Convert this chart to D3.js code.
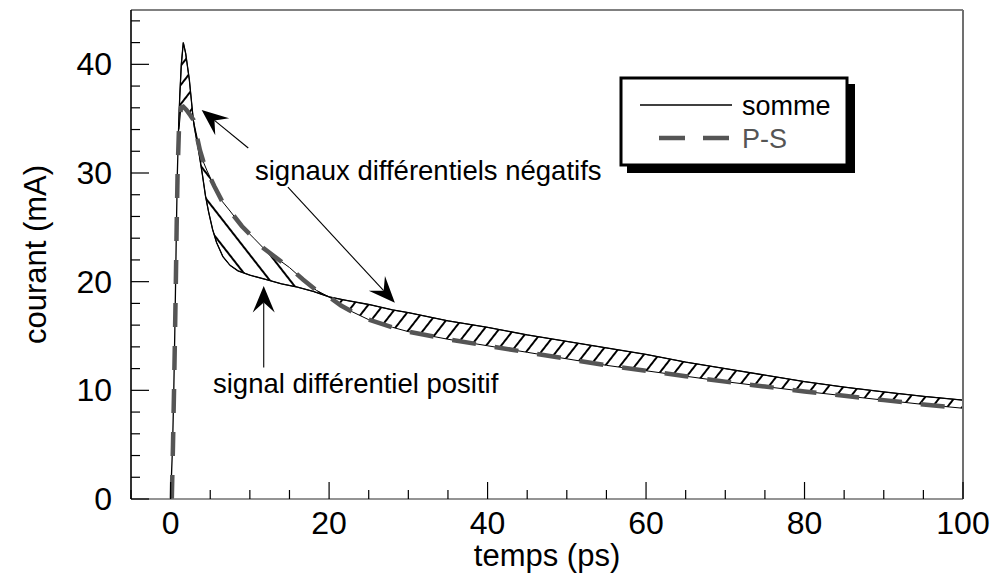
<!DOCTYPE html>
<html><head><meta charset="utf-8">
<script src="https://cdn.jsdelivr.net/npm/d3@7"></script>
<style>body{margin:0;background:#fff;} svg{display:block;font-family:"Liberation Sans",Arial,Helvetica,sans-serif;}</style>
</head><body><svg id="c" width="993" height="576"></svg>
<script>
// ---- data (temps en ps, courant en mA) ----
const sommeT = [0,0.25,0.4,0.52,0.63,0.73,0.85,1.0,1.15,1.35,1.6,1.9,2.36,2.86,3.0,3.5,4.0,4.4,4.8,5.3,5.8,6.6,7.5,8.5,10,12,14,16,18,20,22,25,28,30,35,40,45,50,55,60,65,70,75,80,85,90,95,100];
const sommeI = [0,5,10,15,20,25,30,34,37,40,42,41,38.6,34.9,34.2,32.2,29.9,27.9,26.4,24.8,23.6,22.3,21.5,21.0,20.6,20.2,19.8,19.5,19.1,18.6,18.3,17.9,17.4,17.15,16.4,15.8,15.1,14.5,13.9,13.3,12.6,12.0,11.4,10.8,10.3,9.85,9.45,9.1];
const psT = [0.15,0.3,0.43,0.55,0.66,0.76,0.88,1.05,1.3,1.6,2.0,2.5,2.86,3.3,3.7,4.2,4.6,5.5,6.5,7.5,9,10.5,11.7,13.5,15,16.7,18.4,20,21.5,23,25,28,30,35,40,45,50,55,60,65,70,75,80,85,90,95,100];
const psI = [0,5,10,15,20,25,30,34,36,36.1,35.8,35.3,34.9,33.4,32.1,30.9,30.2,28.8,27.4,26.5,25.1,24.0,23.1,22.1,21.3,20.2,19.2,18.6,17.8,17.2,16.5,15.8,15.4,14.7,14.1,13.5,12.9,12.3,11.8,11.3,10.8,10.35,9.9,9.5,9.1,8.7,8.35];
const xMajorTicks = [0,20,40,60,80,100];
const xMinorTicks = [-5,5,10,15,25,30,35,45,50,55,65,70,75,85,90,95];
const yMajorTicks = [0,10,20,30,40];
const yMinorTicks = [2,4,6,8,12,14,16,18,22,24,26,28,32,34,36,38,42,44];
const seriesNames = ["somme","P-S"];
const hatchStartT = 1.0;      // début de la zone hachurée
const midRegion = [3.0, 20];  // zone "signal différentiel positif"
// annotations (en unités de données)
const labelNeg = {t:10.65, v:29.4, text:"signaux différentiels négatifs"};
const labelPos = {t:5.35, v:9.8, text:"signal différentiel positif"};
const arrows = [
  {from:[9.8,32.3], to:[3.92,35.8]},
  {from:[14.8,28.7], to:[28.3,18.05]},
  {from:[11.75,12.1], to:[11.75,19.6]}
];

// ---- chart ----
const svg = d3.select("#c");
const W = 993, H = 576;
const x = d3.scaleLinear().domain([-5,100]).range([131,963]);
const y = d3.scaleLinear().domain([0,45]).range([499,10]);
const defs = svg.append("defs");
defs.append("clipPath").attr("id","plot").append("rect")
  .attr("x",x(-5)).attr("y",y(45)).attr("width",x(100)-x(-5)).attr("height",y(0)-y(45));
const cm = defs.append("clipPath").attr("id","mid");
cm.append("rect").attr("x",x(midRegion[0])).attr("y",0).attr("width",x(midRegion[1])-x(midRegion[0])).attr("height",H);
const co = defs.append("clipPath").attr("id","out");
co.append("rect").attr("x",0).attr("y",0).attr("width",x(midRegion[0])).attr("height",H);
co.append("rect").attr("x",x(midRegion[1])).attr("y",0).attr("width",W-x(midRegion[1])).attr("height",H);

function hatch(id, angle, sp){
  const p = defs.append("pattern").attr("id",id).attr("patternUnits","userSpaceOnUse")
    .attr("width",sp).attr("height",sp).attr("patternTransform",`rotate(${angle})`);
  p.append("line").attr("x1",sp/2).attr("x2",sp/2).attr("y1",-1).attr("y2",sp+1)
    .attr("stroke","#000").attr("stroke-width",2);
}
hatch("hRight",38,11.8);
hatch("hMid",-38,16);

const somme = sommeT.map((t,i)=>[t,sommeI[i]]);
const ps = psT.map((t,i)=>[t,psI[i]]);
const line = d3.line().x(d=>x(d[0])).y(d=>y(d[1]));
const poly = somme.filter(d=>d[0]>=hatchStartT).concat(ps.filter(d=>d[0]>=hatchStartT).reverse());
const polyPath = line(poly)+"Z";

const g = svg.append("g").attr("clip-path","url(#plot)");
g.append("g").attr("clip-path","url(#out)").append("path").attr("d",polyPath)
  .attr("fill","url(#hRight)").attr("stroke","#000").attr("stroke-width",1);
g.append("g").attr("clip-path","url(#mid)").append("path").attr("d",polyPath)
  .attr("fill","url(#hMid)").attr("stroke","#000").attr("stroke-width",1);
g.append("path").attr("d",line(somme)).attr("fill","none").attr("stroke","#000").attr("stroke-width",1.3);
g.append("path").attr("d",line(ps)).attr("fill","none").attr("stroke","#555").attr("stroke-width",4.5)
  .attr("stroke-dasharray","24,19");

// frame
svg.append("line").attr("x1",x(-5)).attr("x2",x(100)).attr("y1",y(45)).attr("y2",y(45)).attr("stroke","#808080").attr("stroke-width",2);
svg.append("line").attr("x1",x(100)).attr("x2",x(100)).attr("y1",y(45)).attr("y2",y(0)).attr("stroke","#707070").attr("stroke-width",2);
svg.append("line").attr("x1",x(-5)).attr("x2",x(100)).attr("y1",y(0)).attr("y2",y(0)).attr("stroke","#707070").attr("stroke-width",1.6);
svg.append("line").attr("x1",x(-5)).attr("x2",x(-5)).attr("y1",y(45)).attr("y2",y(0)).attr("stroke","#000").attr("stroke-width",1.6);

// ticks
const tk = svg.append("g").attr("stroke","#000").attr("stroke-width",1.2);
xMajorTicks.forEach(v=>tk.append("line").attr("x1",x(v)).attr("x2",x(v)).attr("y1",y(0)).attr("y2",y(0)-17));
xMinorTicks.forEach(v=>tk.append("line").attr("x1",x(v)).attr("x2",x(v)).attr("y1",y(0)).attr("y2",y(0)-9));
yMajorTicks.forEach(v=>tk.append("line").attr("x1",x(-5)).attr("x2",x(-5)+18).attr("y1",y(v)).attr("y2",y(v)));
yMinorTicks.forEach(v=>tk.append("line").attr("x1",x(-5)).attr("x2",x(-5)+9).attr("y1",y(v)).attr("y2",y(v)));

// tick labels
svg.append("g").selectAll("text").data(xMajorTicks).join("text")
  .attr("x",d=>x(d)).attr("y",534).attr("text-anchor","middle").attr("font-size",32).text(d=>d);
svg.append("g").selectAll("text").data(yMajorTicks).join("text")
  .attr("x",112).attr("y",d=>y(d)+11).attr("text-anchor","end").attr("font-size",32).text(d=>d);
svg.append("text").attr("x",(x(-5)+x(100))/2).attr("y",566).attr("text-anchor","middle").attr("font-size",31).text("temps (ps)");
svg.append("text").attr("transform",`translate(46,${(y(0)+y(45))/2}) rotate(-90)`).attr("text-anchor","middle").attr("font-size",31).text("courant (mA)");

// annotations
svg.append("text").attr("x",x(labelNeg.t)).attr("y",y(labelNeg.v)).attr("font-size",27.5).text(labelNeg.text);
svg.append("text").attr("x",x(labelPos.t)).attr("y",y(labelPos.v)).attr("font-size",27.5).text(labelPos.text);
arrows.forEach(a=>{
  const x0=x(a.from[0]), y0=y(a.from[1]), x1=x(a.to[0]), y1=y(a.to[1]);
  const dx=x1-x0, dy=y1-y0, L=Math.hypot(dx,dy), ux=dx/L, uy=dy/L, nx=-uy, ny=ux;
  const hl=26.5, hw=11, nl=16.5;
  const b=[x1-ux*hl, y1-uy*hl];
  svg.append("line").attr("x1",x0).attr("y1",y0).attr("x2",x1-ux*nl).attr("y2",y1-uy*nl).attr("stroke","#000").attr("stroke-width",1.1);
  const pts=[[x1,y1],[b[0]+nx*hw,b[1]+ny*hw],[x1-ux*nl,y1-uy*nl],[b[0]-nx*hw,b[1]-ny*hw]];
  svg.append("path").attr("d","M"+pts.map(p=>p.join(",")).join("L")+"Z").attr("fill","#000");
});

// legend
const lg = svg.append("g");
lg.append("rect").attr("x",627).attr("y",84).attr("width",228).attr("height",89).attr("fill","#000");
lg.append("rect").attr("x",621).attr("y",78).attr("width",226).attr("height",87).attr("fill","#fff").attr("stroke","#000").attr("stroke-width",3);
lg.append("line").attr("x1",640).attr("x2",732).attr("y1",105).attr("y2",105).attr("stroke","#000").attr("stroke-width",1.3);
lg.append("text").attr("x",742).attr("y",115).attr("font-size",27).attr("fill","#000").text(seriesNames[0]);
lg.append("line").attr("x1",659).attr("x2",730).attr("y1",138).attr("y2",138).attr("stroke","#555").attr("stroke-width",4.5).attr("stroke-dasharray","26,18");
lg.append("text").attr("x",742).attr("y",148).attr("font-size",27).attr("fill","#555").text(seriesNames[1]);
</script></body></html>
